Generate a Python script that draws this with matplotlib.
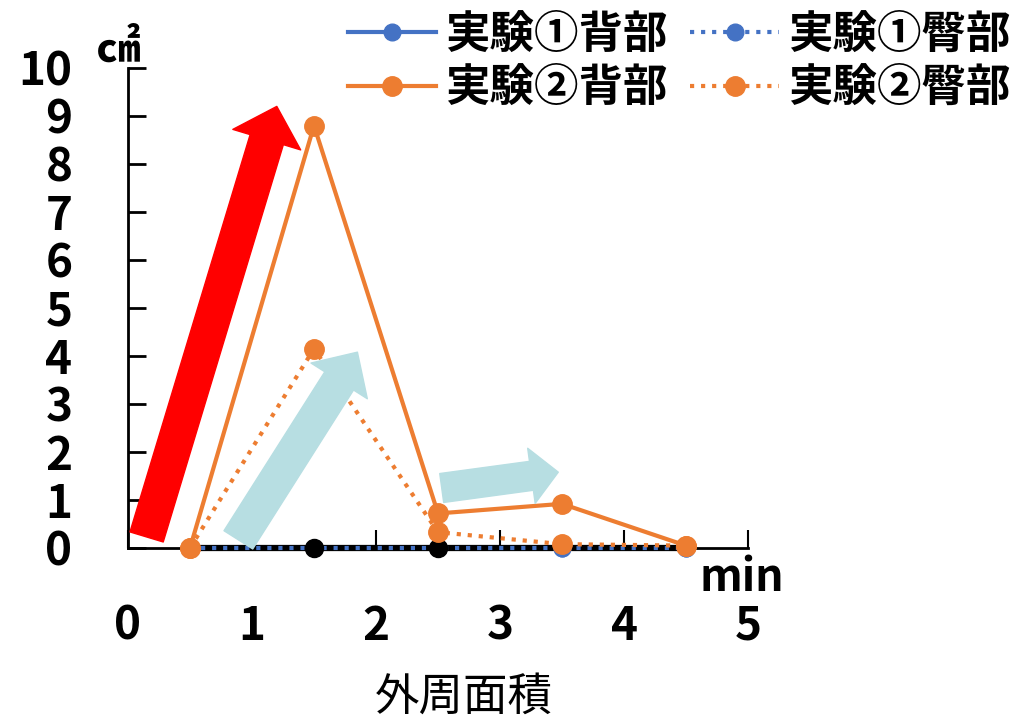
import matplotlib
matplotlib.use('Agg')
from matplotlib import pyplot as plt
from matplotlib.patches import FancyArrowPatch

plt.rcParams['font.family'] = ['Noto Sans CJK JP', 'DejaVu Sans']

# 測定時刻(分)と各部位の外周面積(cm2)
minutes = [0.5, 1.5, 2.5, 3.5, 4.5]
exp1_back = [0, 0, 0, 0, 0]
exp1_hip = [0, 0, 0, 0, 0]
exp2_back = [0, 8.8, 0.72, 0.92, 0.05]
exp2_hip = [0, 4.15, 0.33, 0.08, 0.05]
base = [0, 0, 0, 0, 0]
x_ticks = [0, 1, 2, 3, 4, 5]
y_ticks = list(range(0, 11))

blue = '#4472C4'
orange = '#ED7D31'

fig = plt.figure(figsize=(10.17, 7.2), dpi=100)
ax = fig.add_axes([128/1017, 172/720, 620/1017, 480/720])

l1, = ax.plot(minutes, exp1_back, '-', color=blue, lw=3, marker='o', ms=12, clip_on=False, zorder=2)
ax.plot(minutes, base, '-', color='black', lw=4.5, clip_on=False, zorder=3)
l2, = ax.plot(minutes, exp1_hip, ':', color=blue, lw=3, marker='o', ms=12, clip_on=False, zorder=4)
ax.plot(minutes[1:3], base[1:3], 'o', color='black', ms=13, clip_on=False, zorder=5)
l3, = ax.plot(minutes, exp2_back, '-', color=orange, lw=3, marker='o', ms=14, clip_on=False, zorder=7)
l4, = ax.plot(minutes, exp2_hip, ':', color=orange, lw=3, marker='o', ms=14, clip_on=False, zorder=6)

ax.set_xlim(0, 5)
ax.set_ylim(0, 10)
ax.spines['top'].set_visible(False)
ax.spines['right'].set_visible(False)
ax.spines['left'].set_linewidth(2)
ax.spines['bottom'].set_linewidth(2)
ax.set_xticks(x_ticks)
ax.set_yticks(y_ticks)
ax.tick_params(axis='y', direction='in', length=13, width=2, pad=40, labelsize=33)
ax.tick_params(axis='x', direction='in', length=13, width=1.5, pad=40, labelsize=33)
for lab in ax.get_xticklabels() + ax.get_yticklabels():
    lab.set_fontweight('bold')

# 矢印
def arrow(tail, tip, color, tw, hw, hl):
    a = FancyArrowPatch(tail, tip, arrowstyle='simple,head_length=%g,head_width=%g,tail_width=%g' % (hl, hw, tw),
                        mutation_scale=10, color=color, shrinkA=0, shrinkB=0, zorder=8, clip_on=False)
    ax.add_patch(a)

arrow((0.15, 0.23), (1.2, 9.2), '#FF0000', 2.5, 5.1, 2.5)
arrow((0.89, 0.17), (1.85, 4.08), '#B7DEE2', 2.45, 4.8, 2.45)
arrow((2.53, 1.25), (3.47, 1.58), '#B7DEE2', 2.1, 4.0, 1.95)

ax.text(-0.016, 1.04, '㎠', transform=ax.transAxes, ha='center', va='center', fontsize=32, fontweight='bold')
ax.text(0.99, -0.0625, 'min', transform=ax.transAxes, ha='center', va='center', fontsize=32, fontweight='bold')
fig.text(0.456, 0.032, '外周面積', ha='center', va='center', fontsize=32)

leg = fig.legend([l1, l3, l2, l4], ['実験①背部', '実験②背部', '実験①臀部', '実験②臀部'],
                 loc='upper right', bbox_to_anchor=(1.0, 0.993), ncol=2, frameon=False,
                 prop={'size': 32, 'weight': 'bold'}, handlelength=2.0, handletextpad=0.2,
                 columnspacing=0.5, labelspacing=0.17, borderaxespad=0.1, borderpad=0.05)

plt.savefig('out.png', dpi=100)
